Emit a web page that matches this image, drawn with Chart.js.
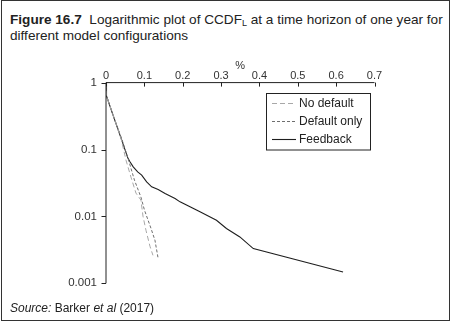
<!DOCTYPE html>
<html>
<head>
<meta charset="utf-8">
<script src="https://cdn.jsdelivr.net/npm/chart.js@4.4.0/dist/chart.umd.min.js"></script>
<style>
  html, body { margin: 0; padding: 0; background: #fff; }
  #wrap { position: relative; width: 451px; height: 323px; overflow: hidden; font-family: "Liberation Sans", Arial, sans-serif; color: #222; }
  #frame { position: absolute; left: 1px; top: 0px; width: 447px; height: 319px; border: 1.2px solid #333; }
  #title { position: absolute; left: 10px; top: 12px; font-size: 13.6px; line-height: 16px; white-space: nowrap; }
  #title sub { font-size: 9px; vertical-align: -2px; line-height: 0; }
  #source { position: absolute; left: 10px; top: 301px; font-size: 12px; white-space: nowrap; }
  canvas { position: absolute; left: 0; top: 0; }
</style>
</head>
<body>
<div id="wrap">
  <div id="frame"></div>
  <div id="title"><b>Figure 16.7</b>&nbsp; Logarithmic plot of CCDF<sub>L</sub> at a time horizon of one year for<br>different model configurations</div>
  <canvas id="c" width="451" height="323"></canvas>
  <div id="source"><i>Source:</i> Barker <i>et al</i> (2017)</div>
</div>
<script>
// Loss level (%) and complementary CDF for each model configuration
const noDefaultX   = [0, 0.0013, 0.0208, 0.039, 0.0521, 0.0651, 0.0781, 0.0911, 0.0964, 0.1042, 0.1146, 0.1224];
const noDefaultY   = [1, 0.63,   0.299,  0.148, 0.0694, 0.0386, 0.0223, 0.0175, 0.0101, 0.0062, 0.00358, 0.00262];

const defaultOnlyX = [0, 0.0013, 0.0208, 0.0404, 0.0573, 0.0742, 0.0911, 0.1003, 0.1172, 0.1276, 0.1354];
const defaultOnlyY = [1, 0.63,   0.299,  0.148,  0.0743, 0.0348, 0.0194, 0.0124, 0.00665, 0.0044, 0.00245];

const feedbackX = [0, 0.0013, 0.021, 0.041, 0.057, 0.0625, 0.071, 0.0826, 0.093, 0.106, 0.119, 0.136, 0.154, 0.180, 0.193, 0.219, 0.245, 0.288, 0.314, 0.349, 0.384, 0.618];
const feedbackY = [1, 0.63,   0.295, 0.138, 0.0743, 0.0654, 0.0551, 0.0464, 0.0414, 0.0328, 0.0277, 0.0253, 0.022, 0.0185, 0.0165, 0.0139, 0.0117, 0.00877, 0.00659, 0.00493, 0.0033, 0.00148];

const seriesNames = ['No default', 'Default only', 'Feedback'];

const xTicks = [0, 0.1, 0.2, 0.3, 0.4, 0.5, 0.6, 0.7];
const xTickLabels = ['0', '0.1', '0.2', '0.3', '0.4', '0.5', '0.6', '0.7'];
const yTicks = [0.001, 0.01, 0.1, 1];
const yTickLabels = ['0.001', '0.01', '0.1', '1'];

const pts = (xs, ys) => xs.map((x, i) => ({ x: x, y: ys[i] }));

const FONT = '"Liberation Sans", Arial, sans-serif';
const INK = '#222';

// Axis lines with inward ticks on the top axis and outward ticks on the left axis
const axesPlugin = {
  id: 'axesPlugin',
  afterDatasetsDraw(chart) {
    const { ctx, chartArea: a, scales } = chart;
    const xs = scales.x, ys = scales.y;
    ctx.save();
    ctx.strokeStyle = INK;
    ctx.lineWidth = 1;
    ctx.beginPath();
    ctx.moveTo(a.left, a.bottom);
    ctx.lineTo(a.left, a.top);
    ctx.lineTo(a.right, a.top);
    xTicks.forEach(v => {
      const px = Math.round(xs.getPixelForValue(v)) + 0.5;
      ctx.moveTo(px, a.top);
      ctx.lineTo(px, a.top + 4);
    });
    yTicks.forEach(v => {
      const py = Math.round(ys.getPixelForValue(v)) + 0.5;
      ctx.moveTo(a.left, py);
      ctx.lineTo(a.left - 4.5, py);
    });
    ctx.stroke();
    ctx.restore();
  }
};

// Boxed legend in the upper right of the plot
const boxLegend = {
  id: 'boxLegend',
  afterDraw(chart) {
    const { ctx } = chart;
    const bx = 266.5, by = 93.5, bw = 104, bh = 56.5;
    const rows = [103.5, 121.5, 139.5];
    ctx.save();
    ctx.strokeStyle = INK;
    ctx.lineWidth = 1;
    ctx.strokeRect(bx, by, bw, bh);
    ctx.font = '12px ' + FONT;
    ctx.textBaseline = 'middle';
    ctx.textAlign = 'left';
    chart.data.datasets.forEach((ds, i) => {
      const y = rows[i];
      ctx.beginPath();
      ctx.setLineDash(ds.borderDash || []);
      ctx.strokeStyle = ds.borderColor;
      ctx.lineWidth = ds.borderWidth;
      ctx.moveTo(272, y);
      ctx.lineTo(296, y);
      ctx.stroke();
      ctx.setLineDash([]);
      ctx.fillStyle = INK;
      ctx.fillText(ds.label, 299, y + 0.5);
    });
    ctx.restore();
  }
};

new Chart(document.getElementById('c'), {
  type: 'scatter',
  data: {
    datasets: [
      { label: seriesNames[0], data: pts(noDefaultX, noDefaultY), showLine: true, borderColor: '#a8a8a8', borderWidth: 1, borderDash: [5, 3], pointRadius: 0, tension: 0 },
      { label: seriesNames[1], data: pts(defaultOnlyX, defaultOnlyY), showLine: true, borderColor: '#6e6e6e', borderWidth: 1, borderDash: [3, 2], pointRadius: 0, tension: 0 },
      { label: seriesNames[2], data: pts(feedbackX, feedbackY), showLine: true, borderColor: '#1e1e1e', borderWidth: 1.1, pointRadius: 0, tension: 0 }
    ]
  },
  options: {
    responsive: false,
    animation: false,
    devicePixelRatio: 1,
    layout: { padding: { left: 10, top: 50, right: 76.5, bottom: 39.7 } },
    plugins: { legend: { display: false }, tooltip: { enabled: false }, title: { display: false } },
    scales: {
      x: {
        type: 'linear',
        position: 'top',
        min: 0,
        max: 0.7,
        afterBuildTicks: s => { s.ticks = xTicks.map(v => ({ value: v })); },
        afterFit: s => { s.height = 32.6; },
        grid: { display: false, drawTicks: false },
        border: { display: false },
        ticks: {
          padding: 0,
          maxRotation: 0,
          autoSkip: false,
          color: '#333',
          font: { family: FONT, size: 11 },
          callback: (v, i) => xTickLabels[i]
        },
        title: { display: true, text: '%', color: '#333', padding: { top: 9, bottom: 0 }, font: { family: FONT, size: 11 } }
      },
      y: {
        type: 'logarithmic',
        min: 0.001,
        max: 1,
        afterBuildTicks: s => { s.ticks = yTicks.map(v => ({ value: v })); },
        afterFit: s => { s.width = 96; },
        grid: { display: false, drawTicks: false },
        border: { display: false },
        ticks: {
          padding: 9,
          autoSkip: false,
          color: '#333',
          font: { family: FONT, size: 11.5 },
          callback: (v, i) => yTickLabels[i]
        }
      }
    }
  },
  plugins: [axesPlugin, boxLegend]
});
</script>
</body>
</html>
